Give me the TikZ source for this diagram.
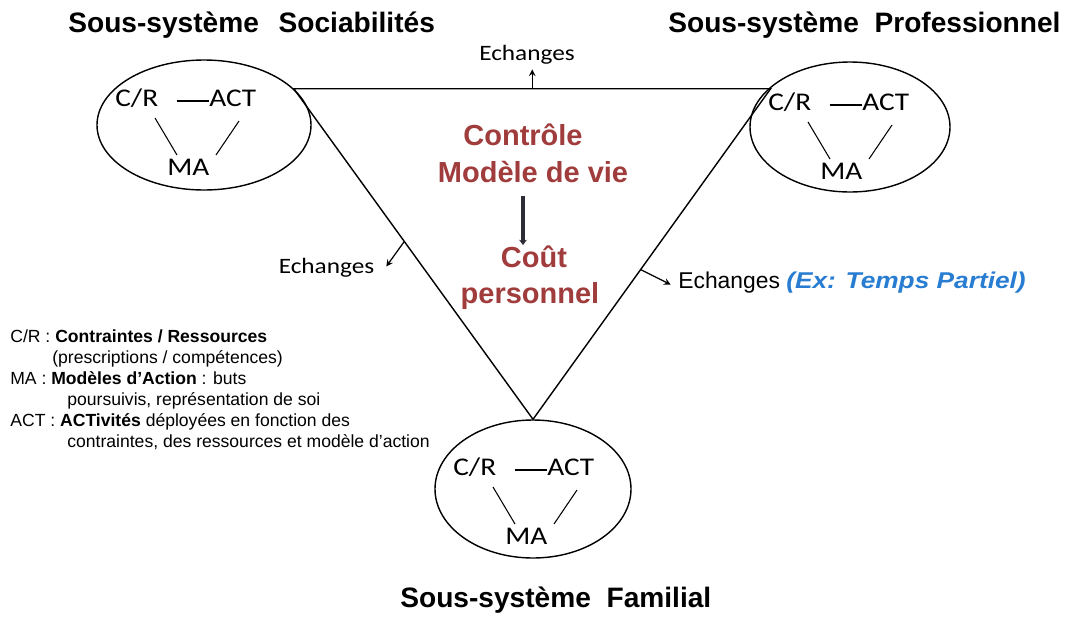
\documentclass[tikz,border=0pt]{standalone}
\usepackage{fontspec}
\setmainfont{Liberation Sans}
\newfontfamily\calib[FakeStretch=1.15]{Carlito}
\newfontfamily\exfont[FakeStretch=1.15]{Liberation Sans}
\usetikzlibrary{shapes.geometric, arrows, arrows.meta, calc, positioning}
\definecolor{lifered}{RGB}{160,60,60}
\definecolor{exblue}{RGB}{40,125,210}
\definecolor{arrowgray}{RGB}{45,45,55}
\tikzstyle{subsys} = [ellipse, draw=black, line width=0.8pt, inner sep=0pt]
\tikzstyle{subtitle} = [anchor=base west, inner sep=0pt, font=\fontsize{16pt}{19pt}\selectfont\bfseries]
\tikzstyle{inner} = [anchor=base west, inner sep=0pt, font=\calib\fontsize{14.5pt}{17pt}\selectfont]
\tikzstyle{echange} = [inner sep=2pt, font=\calib\fontsize{12.5pt}{15pt}\selectfont]
\tikzstyle{redtext} = [anchor=base, inner sep=0pt, text=lifered, font=\fontsize{16.5pt}{20pt}\selectfont\bfseries]
\tikzstyle{edge} = [line width=0.8pt]
\tikzstyle{arrow} = [line width=0.7pt,->,>=stealth]
\tikzstyle{bigarrow} = [line width=2.3pt, draw=arrowgray, -{Stealth[length=3pt,width=4.5pt]}]
% C/R, ACT and MA inside one sub-system
\newcommand{\actmodel}[2]{
	\node (#1cr) [inner] at (#2) {C/R};
	\node (#1act) [inner] at ($(#1cr.base west)+(1.88,0)$) {ACT};
	\node (#1ma) [inner] at ($(#1cr.base west)+(1.04,-1.38)$) {MA};
	\draw [line width=0.6pt, shorten <=0.36cm] ([yshift=0.1cm]#1cr.base east) -- ([yshift=0.1cm]#1act.base west);
	\draw [line width=0.6pt] ([shift={(0.8,-0.24)}]#1cr.base west) -- ([shift={(0.2,0.4)}]#1ma.base west);
	\draw [line width=0.6pt] ([shift={(0.6,-0.3)}]#1act.base west) -- ([shift={(0.98,0.4)}]#1ma.base west);
}

\begin{document}
\begin{tikzpicture}[node distance = 10mm, auto]
	\useasboundingbox (0,0) rectangle (21.5,-12.32);
	% sub-systems
	\node (soc) [subsys, minimum width=4.28cm, minimum height=2.6cm] at (4.08,-2.5) {};
	\node (pro) [subsys, minimum width=4.0cm, minimum height=2.6cm] at (17.0,-2.54) {};
	\node (fam) [subsys, minimum width=3.92cm, minimum height=2.76cm] at (10.66,-9.78) {};
	\node (socTitle) [subtitle] at (1.36,-0.64) {Sous-système\hspace*{0.7em}Sociabilités};
	\node (proTitle) [subtitle] at (13.36,-0.64) {Sous-système~~Professionnel};
	\node (famTitle) [subtitle] at (8.0,-12.14) {Sous-système~~Familial};
	\actmodel{soc}{2.3,-2.12}
	\actmodel{pro}{15.36,-2.2}
	\actmodel{fam}{9.06,-9.5}
	% triangle
	\coordinate (A) at (soc.22);
	\coordinate (B) at (pro.153 |- A);
	\coordinate (C) at (fam.north);
	\draw [edge] (A) -- (B) -- (C) -- cycle;
	% centre
	\node (ctrl) [redtext] at (10.46,-2.9) {Contrôle};
	\node (model) [redtext] at (10.66,-3.64) {Modèle de vie};
	\node (cout) [redtext] at (10.68,-5.34) {Coût};
	\node (perso) [redtext] at (10.6,-6.06) {personnel};
	\draw [bigarrow] ([yshift=-1cm]ctrl.south) -- (ctrl.south |- cout.north);
	% exchanges
	\path (A) -- (B) coordinate[pos=0.5] (et);
	\path (A) -- (C) coordinate[pos=0.462] (el);
	\path (B) -- (C) coordinate[pos=0.547] (er);
	\node (echT) [echange, anchor=base] at (10.54,-1.2) {Echanges};
	\node (echL) [echange, anchor=base] at (6.53,-5.46) {Echanges};
	\node (echR) [anchor=base west, inner sep=0pt, font=\fontsize{13pt}{15pt}\selectfont] at (13.56,-5.76)
		{Echanges {\exfont\bfseries\itshape\color{exblue}(Ex: Temps Partiel)}};
	\coordinate (elend) at ($(el)+(-0.36,-0.5)$);
	\coordinate (erend) at ($(er)+(0.6,-0.3)$);
	\draw [arrow, shorten >=1pt] (et) -- (et |- echT.south);
	\draw [arrow] (el) -- (elend);
	\draw [arrow] (er) -- (erend);
	% legend
	\node (legend) [anchor=north west, inner sep=0pt, align=left, font=\fontsize{10pt}{12.05pt}\selectfont] at (0.2,-6.58) {%
		C/R : \textbf{Contraintes / Ressources}\\
		\hspace*{0.84cm}(prescriptions / compétences)\\
		MA : \textbf{Modèles d'Action} : buts\\
		\hspace*{1.14cm}poursuivis, représentation de soi\\
		ACT : \textbf{ACTivités} déployées en fonction des\\
		\hspace*{1.14cm}contraintes, des ressources et modèle d'action};
\end{tikzpicture}
\end{document}
